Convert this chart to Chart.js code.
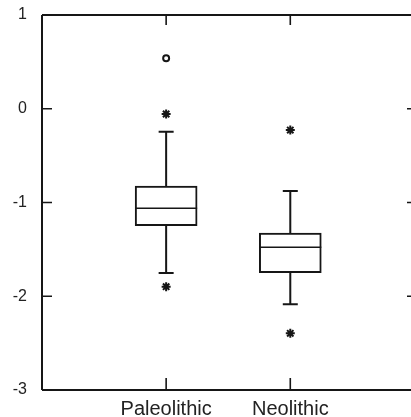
<!DOCTYPE html>
<html>
<head>
<meta charset="utf-8">
<script src="https://cdn.jsdelivr.net/npm/chart.js@4.4.1/dist/chart.umd.min.js"></script>
<style>
  html, body { margin: 0; padding: 0; background: #fff; }
  #wrap { width: 411px; height: 417px; position: relative; }
</style>
</head>
<body>
<div id="wrap"><canvas id="c"></canvas></div>
<script>
// ---- data ----
const categories   = ['Paleolithic', 'Neolithic'];
const xPositions   = [1, 2];
const whiskerHigh  = [-0.245, -0.877];
const quartile3    = [-0.824, -1.325];
const medians      = [-1.062, -1.478];
const quartile1    = [-1.247, -1.749];
const whiskerLow   = [-1.752, -2.086];
const starOutliers = [[-0.056, -1.898], [-0.227, -2.395]];
const circleOutliers = [[0.538], []];
const yTicks = [1, 0, -1, -2, -3];

const INK = '#161616';

const boxData = categories.map((c, i) => ({ x: xPositions[i], y: [quartile1[i], quartile3[i]] }));
const starData = [];
starOutliers.forEach((arr, i) => arr.forEach(v => starData.push({ x: xPositions[i], y: v })));
const circleData = [];
circleOutliers.forEach((arr, i) => arr.forEach(v => circleData.push({ x: xPositions[i], y: v })));

const boxPlugin = {
  id: 'boxExtras',
  afterDatasetsDraw(chart) {
    const ctx = chart.ctx;
    const xs = chart.scales.x, ys = chart.scales.y;
    const area = chart.chartArea;
    ctx.save();
    ctx.strokeStyle = INK;
    ctx.lineCap = 'butt';
    // whiskers and medians
    categories.forEach((c, i) => {
      const px = xs.getPixelForValue(xPositions[i]);
      const yQ3 = ys.getPixelForValue(quartile3[i]);
      const yQ1 = ys.getPixelForValue(quartile1[i]);
      const yHi = ys.getPixelForValue(whiskerHigh[i]);
      const yLo = ys.getPixelForValue(whiskerLow[i]);
      const yMed = ys.getPixelForValue(medians[i]);
      ctx.lineWidth = 2;
      ctx.beginPath();
      ctx.moveTo(px, yQ3); ctx.lineTo(px, yHi);
      ctx.moveTo(px - 7.5, yHi); ctx.lineTo(px + 7.5, yHi);
      ctx.moveTo(px, yQ1); ctx.lineTo(px, yLo);
      ctx.moveTo(px - 7.5, yLo); ctx.lineTo(px + 7.5, yLo);
      ctx.stroke();
      ctx.lineWidth = 1.6;
      ctx.beginPath();
      ctx.moveTo(px - 31, yMed); ctx.lineTo(px + 31, yMed);
      ctx.stroke();
    });
    // frame
    ctx.lineWidth = 2;
    ctx.beginPath();
    ctx.moveTo(area.left, area.top); ctx.lineTo(chart.width, area.top);
    ctx.moveTo(area.left, area.top); ctx.lineTo(area.left, area.bottom);
    ctx.moveTo(area.left, area.bottom); ctx.lineTo(chart.width, area.bottom);
    ctx.stroke();
    // inner ticks
    ctx.lineWidth = 1.6;
    ctx.beginPath();
    yTicks.forEach(v => {
      const py = ys.getPixelForValue(v);
      ctx.moveTo(area.left, py); ctx.lineTo(area.left + 10, py);
      ctx.moveTo(chart.width - 4, py); ctx.lineTo(chart.width, py);
    });
    xPositions.forEach(v => {
      const px = xs.getPixelForValue(v);
      ctx.moveTo(px, area.top); ctx.lineTo(px, area.top + 10);
      ctx.moveTo(px, area.bottom); ctx.lineTo(px, area.bottom - 12);
    });
    ctx.stroke();
    ctx.restore();
  }
};

new Chart(document.getElementById('c'), {
  type: 'bar',
  data: {
    datasets: [
      {
        type: 'bar',
        data: boxData,
        backgroundColor: '#ffffff',
        borderColor: INK,
        borderWidth: 2,
        borderSkipped: false,
        barThickness: 62
      },
      {
        type: 'line',
        data: starData,
        showLine: false,
        pointStyle: 'star',
        pointRadius: 4.5,
        pointBorderWidth: 2,
        pointBorderColor: INK,
        pointBackgroundColor: INK
      },
      {
        type: 'line',
        data: circleData,
        showLine: false,
        pointStyle: 'circle',
        pointRadius: 3,
        pointBorderWidth: 2,
        pointBorderColor: INK,
        pointBackgroundColor: '#ffffff'
      }
    ]
  },
  options: {
    responsive: true,
    maintainAspectRatio: false,
    animation: false,
    layout: { padding: { top: 15, right: 0, left: 0, bottom: 0 } },
    plugins: { legend: { display: false }, tooltip: { enabled: false } },
    scales: {
      x: {
        type: 'linear',
        offset: false,
        min: 0,
        max: 2.92,
        grid: { display: false, drawTicks: false, offset: false },
        border: { display: false },
        afterBuildTicks(scale) { scale.ticks = xPositions.map(v => ({ value: v })); },
        afterFit(scale) { scale.height = 27; scale.paddingLeft = 0; scale.paddingRight = 0; },
        ticks: {
          autoSkip: false,
          maxRotation: 0,
          padding: 7,
          color: '#222',
          font: { family: 'Liberation Sans, Arial, sans-serif', size: 20 },
          callback: (v) => { const i = xPositions.indexOf(v); return i >= 0 ? categories[i] : ''; }
        }
      },
      y: {
        min: -3,
        max: 1,
        grid: { display: false, drawTicks: false },
        border: { display: false },
        afterBuildTicks(scale) { scale.ticks = yTicks.map(v => ({ value: v })); },
        afterFit(scale) { scale.width = 42; scale.paddingTop = 0; scale.paddingBottom = 0; },
        ticks: {
          padding: 15,
          color: '#222',
          font: { family: 'Liberation Sans, Arial, sans-serif', size: 16 },
          callback: (v) => String(v)
        }
      }
    }
  },
  plugins: [boxPlugin]
});
</script>
</body>
</html>
